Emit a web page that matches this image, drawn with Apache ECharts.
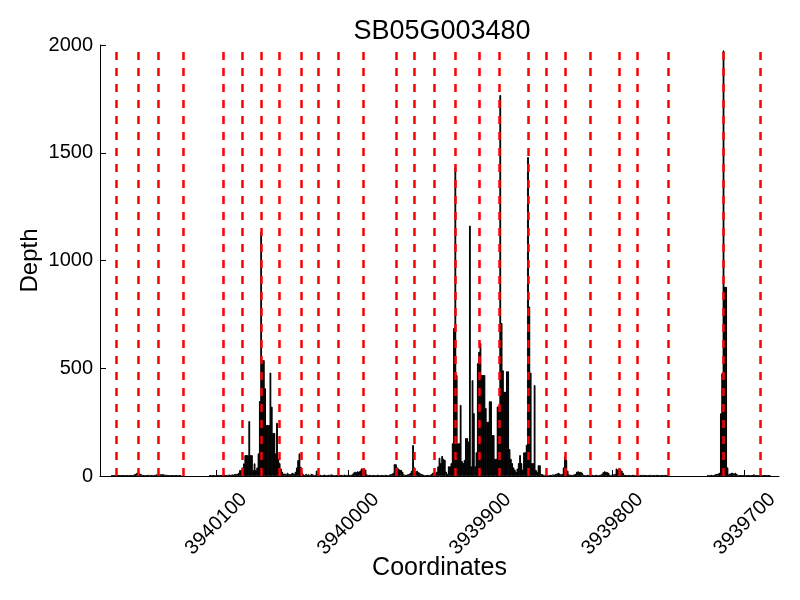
<!DOCTYPE html>
<html>
<head>
<meta charset="utf-8">
<script src="https://cdn.jsdelivr.net/npm/echarts@6/dist/echarts.min.js"></script>
<style>html,body{margin:0;padding:0;background:#fff;}#chart{width:800px;height:600px;}</style>
</head>
<body>
<div id="chart"></div>
<script>
// Depth per coordinate, in contiguous segments (coordinate decreases by 1 per value)
const segAStart = 3940179;
const segA = [2,3,2,3,2,3,2,2,3,2,3,2,3,3,2,2, 5,8,10, 15,15,12,10, 4,5,3,5,4,6,5,4,5,6,5, 8,9,7,8,9,8,6,7, 4,3,4,3,2,3,4,3,2,3,2];
const segBStart = 3940105;
const segB = [3,2,3,4,4,5,4,6,5,3,6,8,5,4,6,7,5,8,6,9,10,
  10,15,28,28,40,59,97,97,97,255,97,97,28,59,28,40,105,348,1132,538,538,407,237,237,237,480,322,200,200,105,247,82,60,35,20,
  10,12,8,15,10,8,12,15,10,20,40,74,105,43,15,8,5,10,6,8,5,10,8,6,5,25,10];
const segCStart = 3940022;
const segC = [5,6,4,5,7,5,4,6,5,8,6,5,4,5,6,5,4,6,5,7,5,6,4,5,6,8,
  15,20,18,22,20,25, 35,32,35,30,
  8,5,6,4,5,3,4,5,6,4,5,3,4,5,6,4,5,6,8,10,15,
  55,55,40,35, 30,28,20, 8,6,5,8,10,15,25, 144,40,
  20,25,18,15,10,8,6,5,4,5,6,5, 10,15,20,15,20,45,85];
const segDStart = 3939930;
const segD = [60,93,80,75,20,10,45,45,60,152,687,1434,469,152,152,330,70,60,75,176,176,160,1162,45,445,292,45,110,
  524,577,617,469,469,469,316,252,252,347,347,190,190,80,80,323,323,1768,710,491,391,391,486,486,125,80,60,40,30,20,35,
  60,97,60,30,110,110,145,1480,786,480,60,60,422,28,20,50,50,10];
const segEStart = 3939853;
const segE = [8,6,5,8,5,4,6,5,8,6,10,12, 15,12,8,10, 40,90,75,25, 8,6,5,6,8,10, 20,22,18,20,15,
  6,5,4,6,5,4,5,6,4,5,6,5,4,6,10, 18,22,20,18,15, 6,5, 5, 8,10, 35,30,35,32,25,15,
  5,6,4,5,3,4,5,6,4,5,3,4,5,4,6,5,4,3,5,4,6,5,4,5,6,4,5,3,4,5,6,4,5,4];
const segFStart = 3939728;
const segF = [4,5,4,6,5,6,8,10,12, 15,291,477,1975,878,878,40, 8,12,15,15,12,15,10,5, 3,2,3,2, 3,
  2,3,2,3,4,3,8,2,3,2,3,2,5,2,3,2,2,3,2];

// Exon boundary lines
const boundaries = [3940176,3940159,3940144,3940125,3940095,3940080,3940066,3940052,3940036,3940023,3940008,
  3939989,3939964,3939950,3939935,3939919,3939901,3939886,3939864,3939850,3939836,3939817,3939795,3939781,
  3939758,3939716,3939688];

const xTicks = [3940100, 3940000, 3939900, 3939800, 3939700];
const yTicks = [0, 500, 1000, 1500, 2000];

const segments = [[segAStart, segA],[segBStart, segB],[segCStart, segC],[segDStart, segD],[segEStart, segE],[segFStart, segF]];
const barData = [];
segments.forEach(([start, vals]) => vals.forEach((v, i) => barData.push([start - i, v])));

const FONT = 'Liberation Sans, Arial, sans-serif';
const chart = echarts.init(document.getElementById('chart'));
chart.setOption({
  animation: false,
  backgroundColor: '#fff',
  title: {
    text: 'SB05G003480',
    left: 437, top: 13, textAlign: 'center',
    textStyle: { fontFamily: FONT, fontSize: 27, fontWeight: 'normal', color: '#000' }
  },
  grid: { left: 100, right: 21, top: 45, bottom: 124, containLabel: false, outerBoundsMode: 'none' },
  xAxis: {
    type: 'value', min: 3939674, max: 3940188, inverse: true,
    name: 'Coordinates', nameLocation: 'middle', nameGap: 80, nameMoveOverlap: false,
    nameTextStyle: { fontFamily: FONT, fontSize: 25, color: '#000' },
    axisLine: { show: true, lineStyle: { color: '#000', width: 1 } },
    axisTick: { show: true, inside: true, length: 6, customValues: xTicks, lineStyle: { color: '#000' } },
    axisLabel: { customValues: xTicks, rotate: 45, align: 'center', verticalAlign: 'middle', margin: 48,
      fontFamily: FONT, fontSize: 20, color: '#000', formatter: v => String(v) },
    splitLine: { show: false }
  },
  yAxis: {
    type: 'value', min: 0, max: 2000, interval: 500,
    name: 'Depth', nameLocation: 'middle', nameGap: 58, nameRotate: 90, nameMoveOverlap: false,
    nameTextStyle: { fontFamily: FONT, fontSize: 24, color: '#000' },
    axisLine: { show: true, lineStyle: { color: '#000', width: 1 } },
    axisTick: { show: true, inside: true, length: 6, lineStyle: { color: '#000' } },
    axisLabel: { margin: 7, fontFamily: FONT, fontSize: 20, color: '#000',
      formatter: v => yTicks.includes(v) ? String(v) : '' },
    splitLine: { show: false }
  },
  series: [{
    type: 'bar',
    data: barData,
    barWidth: 1.8,
    itemStyle: { color: '#000', borderColor: '#000', borderWidth: 1 },
    silent: true,
    markLine: {
      silent: true,
      symbol: ['none', 'none'],
      label: { show: false },
      lineStyle: { color: '#ff0000', width: 2.5, type: [8, 8] },
      emphasis: { disabled: true },
      data: boundaries.map(b => ({ xAxis: b }))
    }
  }]
});
</script>
</body>
</html>
